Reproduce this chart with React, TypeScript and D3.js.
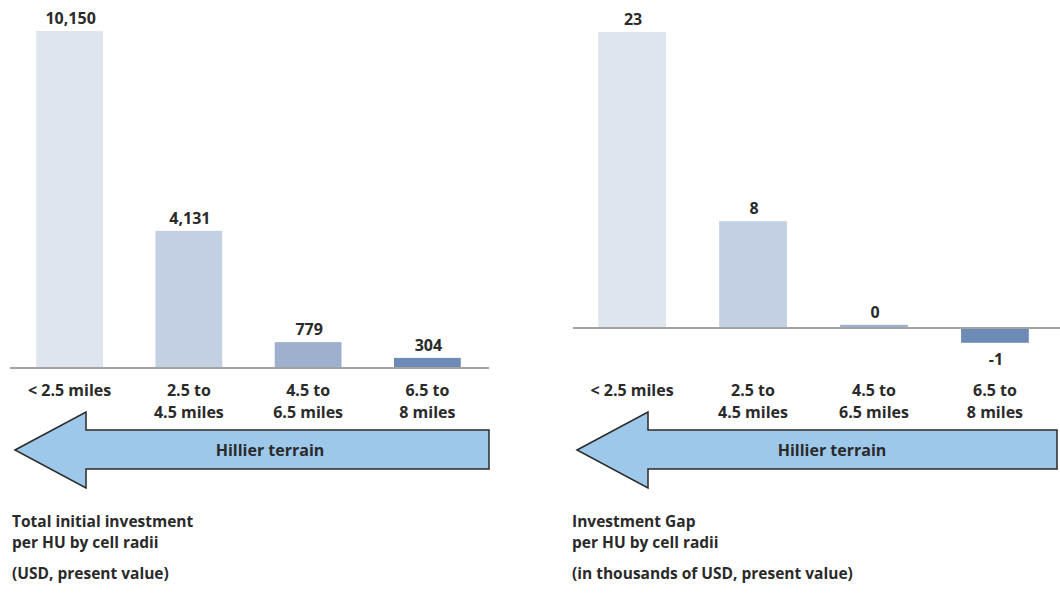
import React from "react";
import * as d3 from "d3";

// Distance bands (cell radii), shared by both panels
const categories = ["< 2.5 miles", "2.5 to\n4.5 miles", "4.5 to\n6.5 miles", "6.5 to\n8 miles"];

// Total initial investment per HU (USD, present value)
const investmentValues = [10150, 4131, 779, 304];

// Investment gap per HU (thousands of USD, present value)
const gapValues = [23.0, 8.3, 0.25, -1.15];

const barColors = ["#dfe5ef", "#c3d0e3", "#9eb0ce", "#6e8bb7"];

const leftTitle = ["Total initial investment", "per HU by cell radii", "", "(USD, present value)"];
const rightTitle = ["Investment Gap", "per HU by cell radii", "", "(in thousands of USD, present value)"];

const arrowLabel = "Hillier terrain";

const FONT = "'Open Sans', 'Noto Sans', sans-serif";
const TEXT = "#2a2a2a";
// value labels: thousands separator, plain hyphen for negatives
const fmt = d3.formatLocale({ decimal: ".", thousands: ",", grouping: [3], currency: ["$", ""], minus: "-" }).format(",.0f");

type PanelProps = {
  values: number[];
  xRange: [number, number];
  yDomain: [number, number];
  yRange: [number, number];
  axisX: [number, number];
  padOuter: number;
};

function Panel({ values, xRange, yDomain, yRange, axisX, padOuter }: PanelProps) {
  const x = d3.scaleBand<string>().domain(categories).range(xRange).paddingInner(0.44).paddingOuter(padOuter);
  const y = d3.scaleLinear().domain(yDomain).range(yRange);
  const y0 = y(0);
  return (
    <g>
      {values.map((v, i) => {
        const c = categories[i];
        const top = Math.min(y(v), y0);
        const h = Math.abs(y(v) - y0);
        const cx = (x(c) as number) + x.bandwidth() / 2;
        return (
          <g key={c}>
            <rect x={x(c)} y={top} width={x.bandwidth()} height={h} fill={barColors[i]} />
            <text
              x={cx + 1}
              y={v >= 0 ? y(v) - 7 : y(v) + 22}
              textAnchor="middle"
              fontFamily={FONT}
              fontWeight={700}
              fontSize={16}
              fill={TEXT}
            >
              {fmt(v)}
            </text>
            {c.split("\n").map((line, j) => (
              <text
                key={j}
                x={cx}
                y={395.5 + j * 22.5}
                textAnchor="middle"
                fontFamily={FONT}
                fontWeight={700}
                fontSize={16}
                fill={TEXT}
              >
                {line}
              </text>
            ))}
          </g>
        );
      })}
      <line x1={axisX[0]} x2={axisX[1]} y1={y0} y2={y0} stroke="#a3a3a3" strokeWidth={2} />
    </g>
  );
}

function Arrow({ tip, back, end, labelX }: { tip: number; back: number; end: number; labelX: number }) {
  const cy = 450;
  const path = d3.path();
  path.moveTo(tip, cy);
  path.lineTo(back, 412);
  path.lineTo(back, 430);
  path.lineTo(end, 430);
  path.lineTo(end, 469);
  path.lineTo(back, 469);
  path.lineTo(back, 488);
  path.closePath();
  return (
    <g>
      <path d={path.toString()} fill="#9ec8ea" stroke="#2a2a2a" strokeWidth={1.5} strokeLinejoin="miter" />
      <text x={labelX} y={455.5} textAnchor="middle" fontFamily={FONT} fontWeight={700} fontSize={16} fill={TEXT}>
        {arrowLabel}
      </text>
    </g>
  );
}

function Title({ lines, x }: { lines: string[]; x: number }) {
  const ys = [527, 548, 0, 579];
  return (
    <g>
      {lines.map((l, i) =>
        l ? (
          <text key={i} x={x} y={ys[i]} fontFamily={FONT} fontWeight={700} fontSize={15.5} fill={TEXT}>
            {l}
          </text>
        ) : null
      )}
    </g>
  );
}

export default function App() {
  return (
    <svg
      width={1060}
      height={595}
      style={{ position: "absolute", left: 0, top: 0, background: "#fff" }}
    >
      <Panel
        values={investmentValues}
        xRange={[10, 487]}
        yDomain={[0, 10150]}
        yRange={[368, 31]}
        axisX={[10, 489]}
        padOuter={0.22}
      />
      <Panel
        values={gapValues}
        xRange={[574, 1053]}
        yDomain={[0, 23]}
        yRange={[328, 32]}
        axisX={[573, 1060]}
        padOuter={0.2}
      />
      <Arrow tip={15} back={86} end={489} labelX={270} />
      <Arrow tip={577} back={648} end={1057} labelX={832} />
      <Title lines={leftTitle} x={12} />
      <Title lines={rightTitle} x={572} />
    </svg>
  );
}
